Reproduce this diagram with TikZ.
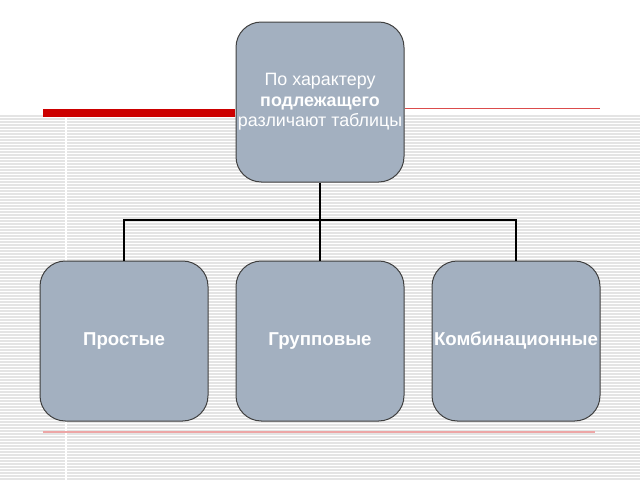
\documentclass[tikz,border=0pt]{standalone}
\usepackage{fontspec}
\setmainfont{Liberation Sans}
\tikzset{every picture/.style={line width=0.75pt}}
\tikzset{
	box/.style={draw=black!75, fill={rgb,255:red,163;green,176;blue,192}, rounded corners=19pt,
		minimum width=126pt, minimum height=120pt, align=center, inner sep=1pt, text=white,
		font=\fontsize{13.4}{15.5}\selectfont},
	leaf/.style={box, font=\fontsize{14}{16}\selectfont\bfseries},
	link/.style={line width=1.5pt}}
\definecolor{stripe}{RGB}{228,228,228}
\definecolor{redline}{RGB}{204,0,0}
\begin{document}
\begin{tikzpicture}[x=0.75pt,y=0.75pt,yscale=-1,xscale=1]
	\useasboundingbox (0,0) rectangle (640,480);
	% background stripes
	\foreach \y in {116,119,...,479} {
		\draw [stripe, line width=0.9pt] (0,\y) -- (640,\y);
	}
	\draw [white, line width=1pt] (66,116) -- (66,480);
	% red rules
	\draw [redline, line width=6pt] (43,113) -- (235,113);
	\draw [redline!70, line width=0.6pt] (405,108) -- (600,108);
	\draw [redline!35, line width=1.5pt] (43,432) -- (595,432);

	% boxes
	\node [box] (top) at (320,102) {По характеру\\\textbf{подлежащего}\\различают таблицы};
	\node [leaf] (simple) at (124,341) {Простые};
	\node [leaf] (group) at (320,341) {Групповые};
	\node [leaf] (comb) at (516,341) {Комбинационные};

	% connectors
	\coordinate (fork) at (320,220);
	\draw [link] (top.south) -- (fork);
	\draw [link] (fork) -| (simple.north);
	\draw [link] (fork) -- (group.north);
	\draw [link] (fork) -| (comb.north);
\end{tikzpicture}
\end{document}
